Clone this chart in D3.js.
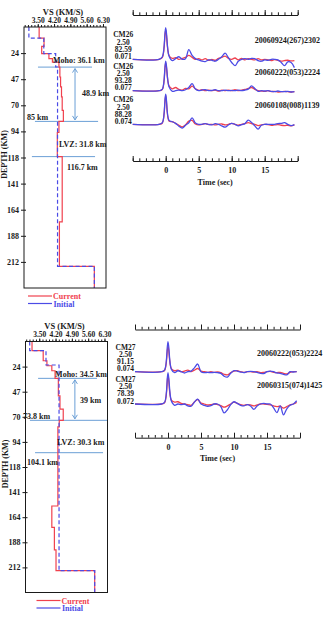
<!DOCTYPE html>
<html>
<head>
<meta charset="utf-8">
<style>
  body { margin: 0; background: #fff; }
  svg { display: block; }
  text { font-family: "Liberation Serif", "DejaVu Serif", serif; font-weight: bold; }
</style>
</head>
<body>
<svg id="chart" width="329" height="617"></svg>

<script src="https://d3js.org/d3.v7.min.js"></script>
<script>
    // ---------- data ----------
    const vsDomain = [2.91, 6.43]
    const vsTicks = [3.5, 4.2, 4.9, 5.6, 6.3]
    const depthDomain = [0, 235]
    const depthTicks = [23.5, 47, 70.5, 94, 117.5, 141, 164.5, 188, 211.5]
    const depthLabels = ['24', '47', '70', '94', '118', '141', '164', '188', '212']
    const timeTicks = [0, 5, 10, 15]

    // CM26 velocity model (top of layer in km, Vs in km/s)
    const curDepth1 = [0, 10, 17.5, 24, 28.5, 31.6, 36.1, 45, 54, 63, 75, 85, 95, 116.7, 175.5, 215.5]
    const curVs1 = [3.56, 3.77, 3.67, 3.98, 4.13, 4.41, 4.45, 4.48, 4.52, 4.55, 4.60, 4.41, 4.34, 4.55, 4.43, 5.93]
    const iniDepth1 = [0, 10, 24, 36, 215.5]
    const iniVs1 = [3.12, 3.76, 4.27, 4.35, 5.93]
    const marks1 = [36.1, 85, 116.7]

    // CM27 velocity model
    const curDepth2 = [0, 8.6, 18, 22.7, 27.4, 34.5, 51, 63.4, 73.8, 80, 154, 174, 195, 214.5]
    const curVs2 = [3.19, 3.67, 3.83, 4.04, 4.18, 4.32, 4.39, 4.53, 4.36, 4.30, 4.04, 4.15, 4.22, 5.88]
    const iniDepth2 = [0, 8.6, 22, 214.5]
    const iniVs2 = [3.09, 3.79, 4.35, 5.88]
    const marks2 = [34.5, 73.8, 104.1]

    // receiver functions (time in s, amplitude relative to direct P)
    const times = [-5, -1, -0.5, 0, 0.5, 1, 1.5, 2, 2.5, 3, 3.5, 4, 4.5, 5, 5.5, 6, 6.5, 7, 7.5, 8, 8.5, 9, 9.5, 10,
                   10.5, 11, 11.5, 12, 12.5, 13, 13.5, 14, 14.5, 15, 15.5, 16, 16.5, 17, 17.5, 18, 18.5, 19, 19.5]

    const rf1obs = [0, 0, 0.08, 0.99, 0.1, -0.04, 0.02, 0.08, 0.0, 0.02, 0.3, 0.12, 0.02, -0.02, -0.06, -0.07, -0.02, -0.03, -0.06, 0.0, 0.08, 0.19,
                    0.05, -0.1, -0.2, -0.06, 0.0, 0.02, 0.0, 0.03, 0.02, -0.04, -0.06, -0.02, -0.03, 0.0, 0.0, -0.02, -0.1, -0.2, -0.08, -0.1, -0.26]
    const rf1syn = [0, 0, 0.06, 0.92, 0.12, 0.03, 0.05, 0.0, 0.03, 0.06, 0.12, 0.06, 0.0, 0.02, -0.02, 0.02, -0.03, 0.0, -0.03, 0.03, 0.06, 0.1,
                    0.03, 0.0, 0.04, -0.02, 0.03, -0.02, 0.02, 0.0, -0.02, 0.02, -0.02, 0.0, -0.02, -0.04, -0.01, -0.03, -0.06, -0.04, -0.03, -0.05, -0.04]
    const rf2obs = [0, 0, 0.05, 0.92, 0.12, -0.02, 0.0, 0.02, 0.0, 0.03, 0.1, 0.22, 0.05, 0.0, 0.02, 0.03, 0.0, 0.01, 0.03, 0.0, 0.0, 0.02,
                    0.0, 0.01, 0.0, 0.02, 0.0, 0.02, 0.05, 0.15, 0.07, -0.02, 0.0, -0.01, 0.0, -0.02, -0.03, -0.01, -0.03, -0.03, -0.02, -0.04, -0.03]
    const rf2syn = [0, 0, 0.04, 0.88, 0.15, 0.06, 0.1, 0.04, 0.02, 0.07, 0.06, 0.14, 0.06, 0.01, 0.03, 0.0, 0.02, 0.0, 0.02, -0.01, 0.02, 0.0,
                    0.02, 0.0, 0.03, 0.0, 0.02, 0.04, 0.07, 0.1, 0.04, 0.0, -0.01, -0.02, 0.0, -0.03, -0.02, -0.04, -0.03, -0.02, -0.03, -0.04, -0.03]
    const rf3obs = [0, 0, 0.05, 0.94, 0.12, 0.08, 0.03, -0.06, -0.12, -0.03, 0.05, 0.2, 0.04, 0.0, 0.0, 0.02, 0.0, -0.02, 0.02, 0.0, -0.05, -0.09,
                    -0.02, 0.03, 0.0, -0.05, -0.01, 0.02, 0.13, 0.06, -0.05, -0.15, -0.03, 0.0, 0.0, 0.0, 0.0, 0.02, 0.03, 0.05, 0.0, -0.04, -0.01]
    const rf3syn = [0, 0, 0.04, 0.9, 0.1, 0.08, 0.03, -0.03, -0.08, -0.02, 0.1, 0.12, 0.01, -0.02, 0.0, 0.02, -0.01, 0.0, -0.02, 0.0, 0.01, -0.02,
                    0.0, 0.03, 0.0, -0.03, 0.0, 0.02, 0.05, 0.02, 0.0, -0.04, -0.02, 0.0, -0.01, -0.03, -0.02, -0.01, -0.03, -0.04, -0.03, -0.05, -0.02]
    const rf4obs = [0, 0, 0.06, 0.94, 0.08, -0.03, 0.03, 0.0, -0.04, 0.0, 0.02, 0.12, 0.24, 0.0, -0.03, -0.02, -0.03, -0.02, -0.03, -0.05, -0.14, -0.17,
                    -0.05, 0.03, 0.02, -0.01, -0.03, 0.0, 0.01, 0.0, -0.02, -0.05, -0.06, 0.0, 0.02, 0.0, -0.04, -0.05, -0.08, -0.1, 0.0, -0.01, 0.0]
    const rf4syn = [0, 0, 0.04, 0.8, 0.1, 0.03, 0.05, 0.0, 0.02, 0.05, 0.0, 0.05, 0.1, 0.02, 0.0, -0.02, 0.0, -0.02, -0.01, -0.03, -0.08, -0.1,
                    -0.03, 0.02, 0.03, 0.0, -0.02, 0.0, 0.0, -0.01, 0.0, -0.03, -0.02, 0.0, 0.01, -0.02, -0.03, -0.02, -0.05, -0.07, -0.02, 0.0, 0.0]
    const rf5obs = [0, 0, 0.06, 0.98, 0.1, -0.04, 0.0, -0.02, 0.0, -0.06, -0.07, 0.06, 0.15, 0.0, -0.04, -0.07, -0.05, 0.0, 0.0, -0.08, -0.28, -0.18,
                    -0.02, 0.07, 0.02, -0.04, -0.06, -0.02, -0.06, -0.17, -0.06, 0.0, 0.02, 0.0, 0.0, -0.12, -0.27, -0.06, -0.34, -0.15, -0.04, 0.0, 0.1]
    const rf5syn = [0, 0, 0.04, 0.9, 0.12, 0.06, 0.07, 0.02, 0.0, -0.02, -0.04, 0.06, 0.14, 0.03, 0.0, -0.03, -0.02, 0.0, -0.02, -0.05, -0.1, -0.06,
                    0.0, 0.06, 0.02, -0.02, -0.04, -0.02, -0.03, -0.06, -0.03, 0.0, 0.0, -0.01, -0.03, -0.06, -0.08, -0.07, -0.13, -0.08, -0.03, 0.0, 0.05]

    const stations1 = ['CM26', 'CM26', 'CM26']
    const params1 = [['2.50', '82.59', '0.071'], ['2.50', '93.28', '0.077'], ['2.50', '88.28', '0.074']]
    const events1 = ['20060924(267)2302', '20060222(053)2224', '20060108(008)1139']
    const stations2 = ['CM27', 'CM27']
    const params2 = [['2.50', '91.15', '0.074'], ['2.50', '78.39', '0.072']]
    const events2 = ['20060222(053)2224', '20060315(074)1425']

    // ---------- style ----------
    const RED = '#f0414e'
    const BLUE = '#4b4be6'
    const NOTE = '#6b9fd6'
    const INK = '#1a1a1a'

    const svg = d3.select('#chart')

    function styleAxis(g, size) {
      g.attr('font-family', null).attr('font-size', size)
      g.selectAll('text').attr('fill', INK)
      g.selectAll('line').attr('stroke', INK)
      g.select('.domain').remove()
    }

    function drawProfile(c) {
      const g = svg.append('g')
      const x = d3.scaleLinear().domain(vsDomain).range([c.left, c.right])
      const y = d3.scaleLinear().domain(depthDomain).range([c.top, c.bottom])

      // top ruler
      const minor = d3.range(2.94, 6.43, 0.14)
      g.append('g').attr('transform', `translate(0,${c.top})`)
       .call(d3.axisTop(x).tickValues(minor).tickSize(2).tickFormat(''))
       .call(a => styleAxis(a, 7.5))
      g.append('g').attr('transform', `translate(0,${c.top})`)
       .call(d3.axisTop(x).tickValues(vsTicks).tickSize(3).tickPadding(1.5).tickFormat(d3.format('.2f')))
       .call(a => styleAxis(a, 7.5))

      // depth axis, ticks across the frame
      g.append('g').attr('transform', `translate(${c.left},0)`)
       .call(d3.axisLeft(y).tickValues(depthTicks).tickSize(3).tickPadding(2).tickFormat((d, i) => depthLabels[i]))
       .call(a => styleAxis(a, 8))
      g.append('g').attr('transform', `translate(${c.left},0)`)
       .call(d3.axisLeft(y).tickValues(depthTicks).tickSize(-2).tickFormat(''))
       .call(a => styleAxis(a, 8))

      g.append('text').attr('x', (c.left + c.right) / 2 - 2).attr('y', c.top - 12.5)
       .attr('text-anchor', 'middle').attr('font-size', 8.5).attr('fill', INK).text('VS (KM/S)')
      g.append('text').attr('transform', `translate(${c.left - 17.5},${(c.top + c.bottom) / 2 - 3}) rotate(-90)`)
       .attr('text-anchor', 'middle').attr('font-size', 8).attr('fill', INK).text('DEPTH (KM)')

      // annotation lines
      c.lines.forEach((l, i) => {
        g.append('line')
         .attr('x1', x(l[0])).attr('x2', x(l[1]))
         .attr('y1', y(c.marks[i])).attr('y2', y(c.marks[i]))
         .attr('stroke', NOTE).attr('stroke-width', 1)
      })
      // double arrow between the first two marks
      const ax = x(c.arrowV), ya = y(c.marks[0]) + 1.5, yb = y(c.marks[1]) - 1.5
      g.append('path')
       .attr('d', `M${ax},${ya}V${yb}M${ax - 2.5},${ya + 4}L${ax},${ya}L${ax + 2.5},${ya + 4}M${ax - 2.5},${yb - 4}L${ax},${yb}L${ax + 2.5},${yb - 4}`)
       .attr('fill', 'none').attr('stroke', NOTE).attr('stroke-width', 1)

      // models
      const stepLine = d3.line().x(d => x(d[1])).y(d => y(d[0])).curve(d3.curveStepBefore)
      const pts = (dep, vs) => dep.map((d, i) => [d, vs[i]]).concat([[depthDomain[1], vs[vs.length - 1]]])
      g.append('path').attr('d', stepLine(pts(c.cur[0], c.cur[1])))
       .attr('fill', 'none').attr('stroke', RED).attr('stroke-width', 1.2)
      g.append('path').attr('d', stepLine(pts(c.ini[0], c.ini[1])))
       .attr('fill', 'none').attr('stroke', BLUE).attr('stroke-width', 1.2).attr('stroke-dasharray', '4,2.5')

      // frame
      g.append('rect').attr('x', c.left).attr('y', c.top)
       .attr('width', c.right - c.left).attr('height', c.bottom - c.top)
       .attr('fill', 'none').attr('stroke', INK).attr('stroke-width', 1)

      // notes
      c.notes.forEach(n => {
        g.append('text').attr('x', x(n.v)).attr('y', n.y(y))
         .attr('font-size', 8).attr('fill', INK).text(n.t)
      })

      // legend
      const lg = g.append('g').attr('transform', `translate(${c.legX},${c.bottom + 8})`)
      lg.append('line').attr('x1', 0).attr('x2', 24).attr('y1', 0).attr('y2', 0).attr('stroke', RED).attr('stroke-width', 1.2)
      lg.append('text').attr('x', 25).attr('y', 3).attr('font-size', 8).attr('fill', RED).text('Current')
      lg.append('line').attr('x1', 0).attr('x2', 24).attr('y1', 7.5).attr('y2', 7.5).attr('stroke', BLUE).attr('stroke-width', 1.2)
      lg.append('text').attr('x', 25.5).attr('y', 10.5).attr('font-size', 8).attr('fill', BLUE).text('Initial')
    }

    function drawTraces(c) {
      const g = svg.append('g')
      const x = d3.scaleLinear().domain([-5, 20]).range([c.left, c.right])
      const amp = d3.scaleLinear().domain([0, 1]).range([0, -32])
      const secs = d3.range(-5, 21, 1)
      const fives = secs.filter(d => d % 5 === 0)

      ;[c.rulerY, c.axisY].forEach((yy, k) => {
        const a = g.append('g').attr('transform', `translate(0,${yy})`)
        a.call(d3.axisBottom(x).tickValues(secs).tickSizeInner(-2.7).tickSizeOuter(0).tickFormat(''))
        a.selectAll('.domain').attr('stroke', INK)
        a.selectAll('line').attr('stroke', INK)
        const b = g.append('g').attr('transform', `translate(0,${yy})`)
        b.call(d3.axisBottom(x).tickValues(k ? timeTicks : fives).tickSizeInner(-5).tickSizeOuter(0)
                .tickPadding(6.5).tickFormat(k ? d3.format('d') : ''))
        b.attr('font-family', null).attr('font-size', 8)
        b.select('.domain').remove()
        b.selectAll('line').attr('stroke', INK)
        b.selectAll('text').attr('fill', INK)
        if (k) {
          g.append('g').attr('transform', `translate(0,${yy})`)
           .call(d3.axisBottom(x).tickValues([-5, 20]).tickSizeInner(-5).tickSizeOuter(0).tickFormat(''))
           .call(s => { s.select('.domain').remove(); s.selectAll('line').attr('stroke', INK) })
        }
      })
      g.append('text').attr('x', x(7.5)).attr('y', c.axisY + 23.5).attr('text-anchor', 'middle')
       .attr('font-size', 8).attr('fill', INK).text('Time (sec)')

      const line = d3.line().x((d, i) => x(times[i])).y(d => amp(d)).curve(d3.curveCatmullRom.alpha(0.5))
      c.traces.forEach((tr, i) => {
        const b = c.baselines[i]
        const t = g.append('g').attr('transform', `translate(0,${b})`)
        t.append('path').attr('d', line(tr[1])).attr('fill', 'none').attr('stroke', RED).attr('stroke-width', 1.3)
        t.append('path').attr('d', line(tr[0])).attr('fill', 'none').attr('stroke', BLUE).attr('stroke-width', 1.3)

        const lines = [c.stations[i]].concat(c.params[i])
        lines.forEach((s, j) => {
          g.append('text').attr('x', c.left - 9.5).attr('y', b - 22 + 7.2 * j)
           .attr('text-anchor', 'middle').attr('font-size', 7.5).attr('fill', INK).text(s)
        })
        g.append('text').attr('x', c.right - 43).attr('y', b - 16)
         .attr('font-size', 8).attr('fill', INK).text(c.events[i])
      })
    }

    // ---------- panels ----------
    drawProfile({
      left: 24, right: 106, top: 27, bottom: 288, legX: 28,
      cur: [curDepth1, curVs1], ini: [iniDepth1, iniVs1], marks: marks1,
      lines: [[3.51, 5.83], [3.38, 6.09], [3.25, 5.96]], arrowV: 5.10,
      notes: [
        {t: 'Moho: 36.1 km', v: 4.15, y: y => y(marks1[0]) - 4},
        {t: '48.9 km', v: 5.40, y: y => (y(marks1[0]) + y(marks1[1])) / 2 + 2},
        {t: '85 km', v: 3.04, y: y => y(marks1[1]) - 1.5},
        {t: 'LVZ: 31.8 km', v: 4.41, y: y => y(marks1[2]) - 10},
        {t: '116.7 km', v: 4.76, y: y => y(marks1[2]) + 13}
      ]
    })
    drawProfile({
      left: 25.5, right: 107.5, top: 341.5, bottom: 592.5, legX: 36.5,
      cur: [curDepth2, curVs2], ini: [iniDepth2, iniVs2], marks: marks2,
      lines: [[3.45, 5.98], [3.10, 6.45], [3.32, 6.24]], arrowV: 5.03,
      notes: [
        {t: 'Moho: 34.5 km', v: 4.18, y: y => y(marks2[0]) - 1.5},
        {t: '39 km', v: 5.25, y: y => (y(marks2[0]) + y(marks2[1])) / 2 + 3.5},
        {t: '73.8 km', v: 2.80, y: y => y(marks2[1]) - 1.5},
        {t: 'LVZ: 30.3 km', v: 4.26, y: y => y(marks2[2]) - 8},
        {t: '104.1 km', v: 2.97, y: y => y(marks2[2]) + 12}
      ]
    })
    drawTraces({
      left: 132.7, right: 297.7, rulerY: 15, axisY: 161, baselines: [59.3, 90.7, 124.3],
      traces: [[rf1obs, rf1syn], [rf2obs, rf2syn], [rf3obs, rf3syn]],
      stations: stations1, params: params1, events: events1
    })
    drawTraces({
      left: 135, right: 300, rulerY: 329.5, axisY: 437.7, baselines: [371.7, 404],
      traces: [[rf4obs, rf4syn], [rf5obs, rf5syn]],
      stations: stations2, params: params2, events: events2
    })
</script>
</body>
</html>
